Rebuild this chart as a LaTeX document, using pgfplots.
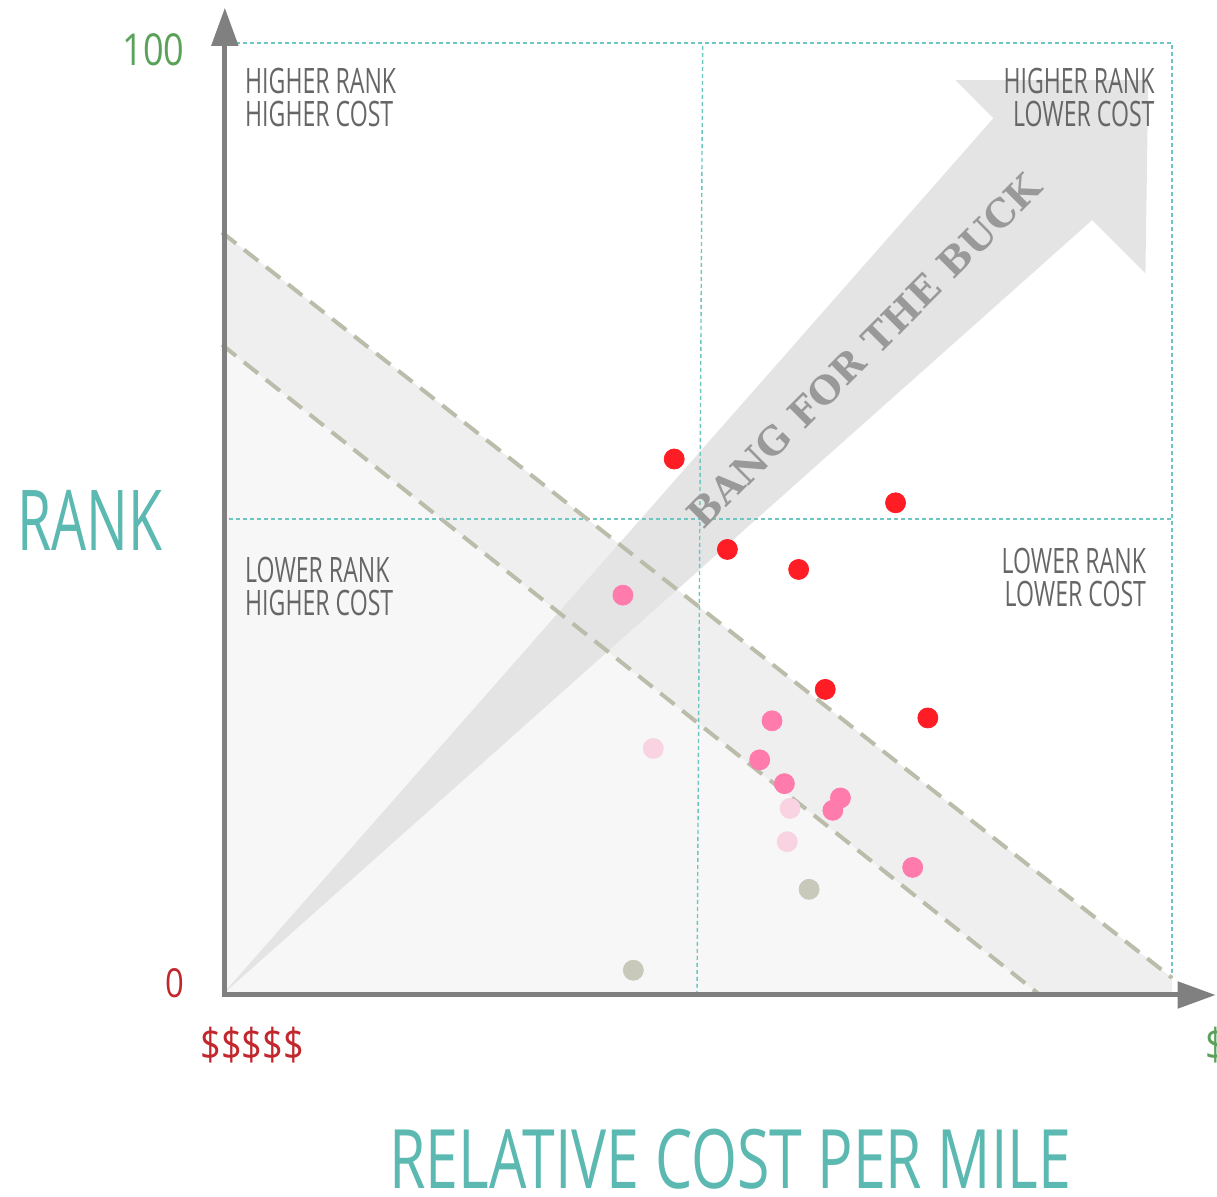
\documentclass[border=0pt]{standalone}
\usepackage{pgfplots}
\pgfplotsset{compat=1.18}
\usetikzlibrary{arrows.meta}
\usepackage{fontspec}
\setmainfont{Open Sans}
\newfontfamily\cond[FakeStretch=0.66]{Open Sans}
\newfontfamily\condw[FakeStretch=0.72]{Open Sans}
\newfontfamily\numf[FakeStretch=0.82]{Open Sans}
\newfontfamily\slab{DejaVu Serif}
\definecolor{lowfill}{HTML}{F7F7F7}
\definecolor{bandfill}{HTML}{EFEFEF}
\definecolor{arrowfill}{HTML}{E4E4E4}
\definecolor{dashc}{HTML}{BCBCAA}
\definecolor{gridc}{HTML}{6CC6C1}
\definecolor{axc}{HTML}{808080}
\definecolor{labc}{HTML}{666666}
\definecolor{tealc}{HTML}{5BB9B1}
\definecolor{greenc}{HTML}{5AA15A}
\definecolor{redc}{HTML}{C1272D}
\definecolor{pt1}{HTML}{FF1D25}
\definecolor{pt2}{HTML}{FF7BAC}
\definecolor{pt3}{HTML}{F9D3E2}
\definecolor{pt4}{HTML}{C8C9BB}
\definecolor{bangc}{HTML}{999999}
\begin{document}
\begin{tikzpicture}
\begin{axis}[at={(0,0)}, anchor=south west,
  width=475pt, height=476pt, scale only axis,
  xmin=0, xmax=100, ymin=0, ymax=100,
  hide axis, clip=false]
% background regions
\fill[lowfill] (0,0) -- (0,68.3) -- (86.1,0) -- cycle;
\fill[bandfill] (0,68.3) -- (0,80.1) -- (100,1.8) -- (100,0) -- (86.1,0) -- cycle;
% big arrow
\fill[arrowfill] (0,0) -- (81.2,92.1) -- (77.2,96.1) -- (97.5,96.1) -- (97.2,75.8) -- (91.6,81.4) -- cycle;
% grid
\draw[gridc, line width=0.7pt, dash pattern=on 2pt off 1.5pt] (1.5,100) -- (100,100) -- (100,1.8);
\draw[gridc, line width=0.7pt, dash pattern=on 2pt off 1.5pt] (0,50) -- (100,50);
\draw[gridc, line width=0.7pt, dash pattern=on 2pt off 1.5pt] (50.0,0) -- (50.6,100);
% dashed band
\draw[dashc, line width=2pt, dash pattern=on 9pt off 5pt] (0,80.1) -- (100,1.8);
\draw[dashc, line width=2pt, dash pattern=on 9pt off 5pt] (0,68.3) -- (86.1,0);
% axes
\draw[axc, line width=2.5pt, line join=miter, {Triangle[length=19pt,width=13pt]}-{Triangle[length=19pt,width=13pt]}] (0.3,103.7) -- (0.3,0) -- (104.6,0);
% arrow text
\node[text=bangc, font=\slab\bfseries\fontsize{19}{21}\selectfont, rotate=45, inner sep=0] at (67.6,67.7) {BANG FOR THE BUCK};
% quadrant labels
\node[anchor=north west, align=left, text=labc, inner sep=0, font=\cond\fontsize{17.5}{16.5}\selectfont] at (2.4,97.4) {HIGHER RANK\\HIGHER COST};
\node[anchor=north east, align=right, text=labc, inner sep=0, font=\cond\fontsize{17.5}{16.5}\selectfont] at (98.2,97.4) {HIGHER RANK\\LOWER COST};
\node[anchor=north west, align=left, text=labc, inner sep=0, font=\cond\fontsize{17.5}{16.5}\selectfont] at (2.4,46.0) {LOWER RANK\\HIGHER COST};
\node[anchor=north east, align=right, text=labc, inner sep=0, font=\cond\fontsize{17.5}{16.5}\selectfont] at (97.3,47.0) {LOWER RANK\\LOWER COST};
% points
\addplot[only marks, mark=*, mark size=5pt, color=pt4] coordinates {(61.8,11.1) (43.3,2.6)};
\addplot[only marks, mark=*, mark size=5pt, color=pt3] coordinates {(45.4,25.9) (59.8,19.6) (59.5,16.1)};
\addplot[only marks, mark=*, mark size=5pt, color=pt2] coordinates {(42.2,42.0) (57.9,28.8) (56.6,24.7) (59.2,22.2) (65.1,20.7) (64.3,19.4) (72.7,13.4)};
\addplot[only marks, mark=*, mark size=5pt, color=pt1] coordinates {(47.6,56.3) (70.9,51.7) (53.2,46.8) (60.7,44.7) (63.5,32.1) (74.3,29.1)};
% axis texts
\node[anchor=east, text=greenc, inner sep=0, font=\numf\fontsize{22}{24}\selectfont] at (-3.9,99.3) {100};
\node[anchor=east, text=redc, inner sep=0, font=\numf\fontsize{20}{22}\selectfont] at (-3.9,1.2) {0};
\node[anchor=west, text=redc, inner sep=0, font=\numf\fontsize{22}{24}\selectfont] at (-2.3,-5.3) {\$\$\$\$\$};
\node[anchor=west, text=greenc, inner sep=0, font=\numf\fontsize{22}{24}\selectfont] at (103.5,-5.3) {\$};
\node[text=tealc, inner sep=0, font=\cond\fontsize{42}{44}\selectfont] at (-13.9,49.9) {RANK};
\node[text=tealc, inner sep=0, font=\condw\fontsize{41}{44}\selectfont] at (53.5,-17.2) {RELATIVE COST PER MILE};
\end{axis}
\pgfresetboundingbox
\useasboundingbox (-111pt,-101pt) rectangle (497.5pt,497.5pt);
\end{tikzpicture}
\end{document}
